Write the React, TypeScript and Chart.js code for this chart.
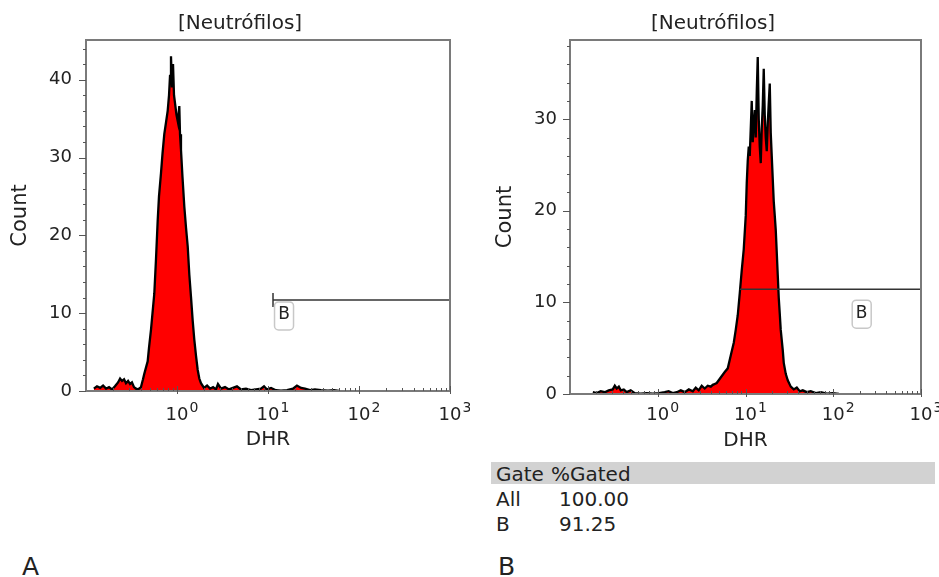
import React, { useEffect, useRef } from 'react';
import { Chart, registerables } from 'chart.js';

Chart.register(...registerables);

const FONT = '"DejaVu Sans", Verdana, sans-serif';

// ---- Panel A histogram (DHR fluorescence, counts) ----
const dhrA = [
  0.122, 0.132, 0.143, 0.154, 0.166, 0.179, 0.193, 0.208, 0.225, 0.237, 0.249, 0.262, 0.275, 0.290, 0.305, 0.320, 0.337, 0.354, 0.373, 0.392,
  0.402, 0.412, 0.423, 0.437, 0.456, 0.476, 0.492, 0.518, 0.538, 0.563, 0.588, 0.614, 0.634, 0.667, 0.693, 0.725, 0.757, 0.790, 0.817, 0.838,
  0.859, 0.881, 0.904, 0.927, 0.951, 0.987, 1.026, 1.060, 1.079, 1.106, 1.149, 1.203, 1.256, 1.311, 1.365, 1.425, 1.488, 1.549, 1.618, 1.689,
  1.758, 1.835,
  1.98, 2.14, 2.31, 2.49, 2.68, 2.82, 3.05, 3.37, 3.73, 4.12, 4.56, 5.05, 5.73, 6.50, 7.38, 8.37, 9.04, 9.75, 10.8, 12.2,
  13.9, 16.2, 18.8, 20.8, 23.1, 25.5, 29.0, 32.8, 38.2, 45.6, 53.1, 60.3,
];
const countA = [
  0.3, 0.6, 0.4, 0.7, 0.3, 0.5, 0.2, 0.6, 1.1, 1.6, 1.3, 1.5, 1.0, 1.3, 0.9, 1.1, 0.5, 0.3, 0.2, 0.4,
  0.5, 1.0, 1.5, 2.2, 3.0, 3.8, 5.5, 7.9, 10.0, 12.5, 17.0, 22.0, 25.0, 28.0, 30.5, 33.0, 34.5, 36.0, 38.0, 40.5,
  43.0, 39.0, 42.0, 38.0, 37.0, 35.5, 34.5, 36.6, 33.0, 31.0, 27.5, 23.7, 21.0, 18.6, 15.0, 12.1, 9.0, 6.6, 4.5, 2.7,
  1.6, 1.0,
  0.4, 0.7, 0.3, 0.5, 0.2, 0.9, 0.3, 0.5, 0.2, 0.4, 0.6, 0.2, 0.3, 0.1, 0.2, 0.3, 0.6, 0.2, 0.4, 0.1,
  0.05, 0.1, 0.3, 0.7, 0.4, 0.3, 0.1, 0.2, 0.1, 0.05, 0.1, 0,
];

// ---- Panel B histogram ----
const dhrB = [
  0.182, 0.202, 0.224, 0.249, 0.276, 0.307, 0.324, 0.341, 0.360, 0.379, 0.410, 0.443, 0.492, 0.547, 0.640, 0.750, 0.877, 1.03, 1.20, 1.33,
  1.48, 1.65, 1.83, 2.03, 2.26, 2.51, 2.71, 2.93, 3.17, 3.43, 3.71, 4.02, 4.24, 4.46,
  4.70, 5.22, 5.80, 6.28, 6.79, 7.35, 7.74, 8.16, 8.60, 9.06, 9.55, 10.07, 10.33, 10.61, 10.89, 11.18, 11.48, 11.78, 12.09, 12.42,
  12.75, 13.09, 13.44, 13.79, 14.16, 14.54, 14.92, 15.32, 15.73, 16.14, 16.57, 17.01, 17.47, 17.93, 18.41, 18.90, 19.40, 19.91, 20.44, 20.99,
  21.54, 22.12, 22.70, 23.31, 23.93, 24.56, 25.21, 26.58, 27.29, 28.75, 30.30, 32.79,
  35.5, 38.4, 41.5, 44.9, 49.9, 55.4, 63.2, 72.1, 84.4, 98.7, 116,
];
const countB = [
  0.2, 0.1, 0.3, 0.2, 0.4, 0.5, 0.9, 0.6, 0.8, 0.4, 0.5, 0.2, 0.4, 0.1, 0.05, 0.1, 0.05, 0.1, 0.2, 0.3,
  0.1, 0.2, 0.4, 0.2, 0.5, 0.3, 0.7, 0.4, 0.9, 0.6, 0.9, 0.8, 1.0, 1.1,
  1.2, 1.8, 2.4, 2.8, 4.2, 5.6, 7.0, 8.6, 11.0, 13.5, 15.8, 19.5, 23.0, 25.5, 27.0, 26.0, 29.0, 32.0, 27.5, 29.5,
  31.0, 28.0, 33.0, 36.8, 30.0, 27.0, 25.2, 29.0, 31.5, 35.5, 30.5, 28.0, 26.5, 29.5, 31.8, 33.9, 28.5, 26.0, 23.5, 21.0,
  19.5, 17.9, 15.5, 13.0, 10.5, 8.8, 7.0, 4.8, 3.4, 2.2, 1.5, 0.8,
  0.5, 0.7, 0.3, 0.4, 0.2, 0.3, 0.1, 0.2, 0.05, 0.1, 0,
];

// ---- Axes ----
const xTickValues = [1, 10, 100, 1000];
const xTickBase = ['10', '10', '10', '10'];
const xTickExp = ['0', '1', '2', '3'];
const xRange = [0.1, 1000];
const yTicksA = [0, 10, 20, 30, 40];
const yTicksB = [0, 10, 20, 30];
const yMaxA = 45.1;
const yMaxB = 38.65;

// ---- Gates (start, end, level, label position) ----
const gateA = [11.35, 1000, 11.7, 15.0];
const gateB = [8.6, 1000, 11.45, 211];

// ---- Statistics table ----
const tableHeader = ['Gate', '%Gated'];
const tableGates = ['All', 'B'];
const tablePct = ['100.00', '91.25'];

const panelPlugin = {
  id: 'panel',
  afterDatasetsDraw(chart: any, _args: any, opts: any) {
    const { ctx, chartArea: ca, scales } = chart;
    const xs = scales.x;
    const ys = scales.y;
    ctx.save();
    // frame
    ctx.strokeStyle = '#7a7a7a';
    ctx.lineWidth = 2;
    ctx.strokeRect(ca.left, ca.top, ca.right - ca.left, ca.bottom - ca.top);
    // y ticks (outside, left)
    ctx.strokeStyle = '#555';
    ctx.lineWidth = 1;
    for (let v = 0; v <= ys.max; v += 2) {
      const py = Math.round(ys.getPixelForValue(v)) + 0.5;
      const len = v % 10 === 0 ? 7 : 3;
      ctx.beginPath();
      ctx.moveTo(ca.left - len, py);
      ctx.lineTo(ca.left, py);
      ctx.stroke();
    }
    // x ticks (log, inward)
    for (let k = -1; k <= 3; k++) {
      for (let m = 1; m <= 9; m++) {
        const v = m * Math.pow(10, k);
        if (v <= xs.min * 1.0001 || v > xs.max * 1.0001) continue;
        const px = Math.round(xs.getPixelForValue(v)) + 0.5;
        const major = m === 1;
        ctx.beginPath();
        ctx.moveTo(px, ca.bottom - (major ? 5 : 3));
        ctx.lineTo(px, ca.bottom + (major ? 3 : 0));
        ctx.stroke();
      }
    }
    // x tick labels: base with raised exponent
    ctx.fillStyle = '#222';
    ctx.textBaseline = 'alphabetic';
    xTickValues.forEach((v, i) => {
      const px = xs.getPixelForValue(v);
      ctx.font = `18px ${FONT}`;
      ctx.textAlign = 'center';
      const bw = ctx.measureText(xTickBase[i]).width;
      ctx.fillText(xTickBase[i], px, opts.xLabelBase);
      ctx.font = `14px ${FONT}`;
      ctx.textAlign = 'left';
      ctx.fillText(xTickExp[i], px + bw / 2 + 1, opts.xLabelBase - 8);
    });
    // gate label box
    const lx = xs.getPixelForValue(opts.labelX);
    const ly = ys.getPixelForValue(opts.level) + opts.labelDy;
    const bw = 19;
    const bh = 28;
    ctx.strokeStyle = '#c8c8c8';
    ctx.lineWidth = 1.5;
    ctx.fillStyle = '#ffffff';
    ctx.beginPath();
    (ctx as any).roundRect(lx - bw / 2, ly - bh / 2 + 1, bw, bh, 4);
    ctx.fill();
    ctx.stroke();
    ctx.fillStyle = '#222';
    ctx.font = `17px ${FONT}`;
    ctx.textAlign = 'center';
    ctx.textBaseline = 'middle';
    ctx.fillText('B', lx, ly);
    // panel title
    ctx.font = `20px ${FONT}`;
    ctx.fillStyle = '#222';
    ctx.fillText('[Neutr\u00f3filos]', opts.titleX, opts.titleY);
    ctx.restore();
  },
};

type PanelCfg = {
  dhr: number[];
  count: number[];
  yMax: number;
  yTicks: number[];
  gate: number[];
  gateTick: boolean;
  yAxisWidth: number;
  xAxisHeight: number;
  padRight: number;
  yTickPad: number;
  yTitlePad: number;
  xTitlePad: number;
  titleX: number;
  labelDy: number;
};

function buildConfig(p: PanelCfg): any {
  const [gStart, gEnd, gLevel, gLabel] = p.gate;
  const datasets: any[] = [];
  datasets.push({
    data: [
      { x: gStart, y: gLevel },
      { x: gEnd, y: gLevel },
    ],
    borderColor: '#333',
    borderWidth: 1.5,
    pointRadius: 0,
    fill: false,
  });
  if (p.gateTick) {
    datasets.push({
      data: [
        { x: gStart, y: gLevel + 0.9 },
        { x: gStart, y: gLevel - 0.9 },
      ],
      borderColor: '#333',
      borderWidth: 1.5,
      pointRadius: 0,
      fill: false,
    });
  }
  datasets.push({
    data: p.dhr.map((x, i) => ({ x, y: p.count[i] })),
    borderColor: '#000',
    borderWidth: 2.3,
    backgroundColor: '#ff0000',
    fill: 'origin',
    pointRadius: 0,
    tension: 0,
  });
  const tickFont = { family: FONT, size: 18 };
  const titleFont = { family: FONT, size: 20 };
  return {
    type: 'line',
    data: { datasets },
    options: {
      responsive: false,
      animation: false,
      events: [],
      layout: { padding: { top: 40, right: p.padRight, left: 0, bottom: 0 } },
      plugins: {
        legend: { display: false },
        tooltip: { enabled: false },
        title: { display: false },
        panel: { labelX: gLabel, level: gLevel, labelDy: p.labelDy, titleX: p.titleX, titleY: 24, xLabelBase: 420 },
      },
      scales: {
        x: {
          type: 'logarithmic',
          min: xRange[0],
          max: xRange[1],
          afterBuildTicks: (s: any) => {
            s.ticks = xTickValues.map((v) => ({ value: v }));
          },
          afterFit: (s: any) => {
            s.height = p.xAxisHeight;
            s.paddingLeft = 0;
            s.paddingRight = 0;
          },
          grid: { display: false, drawTicks: false },
          border: { display: false },
          ticks: { display: false },
          title: { display: true, text: 'DHR', font: titleFont, color: '#222', padding: { top: 0, bottom: p.xTitlePad } },
        },
        y: {
          type: 'linear',
          min: 0,
          max: p.yMax,
          afterBuildTicks: (s: any) => {
            s.ticks = p.yTicks.map((v) => ({ value: v }));
          },
          afterFit: (s: any) => {
            s.width = p.yAxisWidth;
            s.paddingTop = 0;
            s.paddingBottom = 0;
          },
          grid: { display: false, drawTicks: false },
          border: { display: false },
          ticks: { font: tickFont, color: '#222', padding: p.yTickPad },
          title: { display: true, text: 'Count', font: { family: FONT, size: 21 }, color: '#222', padding: { top: p.yTitlePad, bottom: 0 } },
        },
      },
    },
    plugins: [panelPlugin],
  };
}

function Panel({ cfg, left, width }: { cfg: PanelCfg; left: number; width: number }) {
  const ref = useRef<HTMLCanvasElement>(null);
  useEffect(() => {
    const chart = new Chart(ref.current as HTMLCanvasElement, buildConfig(cfg));
    return () => chart.destroy();
  }, []);
  return (
    <canvas
      ref={ref}
      width={width}
      height={460}
      style={{ position: 'absolute', left, top: 0, width, height: 460, display: 'block' }}
    />
  );
}

const panelA: PanelCfg = {
  dhr: dhrA,
  count: countA,
  yMax: yMaxA,
  yTicks: yTicksA,
  gate: gateA,
  gateTick: true,
  yAxisWidth: 86,
  xAxisHeight: 69,
  padRight: 20,
  yTickPad: 14,
  yTitlePad: 8,
  xTitlePad: 8,
  titleX: 240,
  labelDy: 15,
};

const panelB: PanelCfg = {
  dhr: dhrB,
  count: countB,
  yMax: yMaxB,
  yTicks: yTicksB,
  gate: gateB,
  gateTick: false,
  yAxisWidth: 100,
  xAxisHeight: 66,
  padRight: 18,
  yTickPad: 13,
  yTitlePad: 23,
  xTitlePad: 7,
  titleX: 243,
  labelDy: 24,
};

const txt: React.CSSProperties = {
  position: 'absolute',
  fontFamily: FONT,
  fontSize: 20,
  lineHeight: '22px',
  color: '#222',
  whiteSpace: 'nowrap',
};

export default function App() {
  return (
    <div style={{ position: 'absolute', left: 0, top: 0, width: 939, height: 577, background: '#fff', overflow: 'hidden' }}>
      <Panel cfg={panelA} left={0} width={470} />
      <Panel cfg={panelB} left={470} width={469} />
      <div style={{ position: 'absolute', left: 491, top: 462, width: 444, height: 22, background: '#d2d2d2' }} />
      <div style={{ ...txt, left: 496, top: 463 }}>{tableHeader[0]}</div>
      <div style={{ ...txt, left: 551, top: 463 }}>{tableHeader[1]}</div>
      <div style={{ ...txt, left: 496, top: 488 }}>{tableGates[0]}</div>
      <div style={{ ...txt, left: 559, top: 488 }}>{tablePct[0]}</div>
      <div style={{ ...txt, left: 496, top: 513 }}>{tableGates[1]}</div>
      <div style={{ ...txt, left: 559, top: 513 }}>{tablePct[1]}</div>
      <div style={{ ...txt, fontSize: 25, lineHeight: '25px', left: 22, top: 554 }}>A</div>
      <div style={{ ...txt, fontSize: 25, lineHeight: '25px', left: 498, top: 554 }}>B</div>
    </div>
  );
}
